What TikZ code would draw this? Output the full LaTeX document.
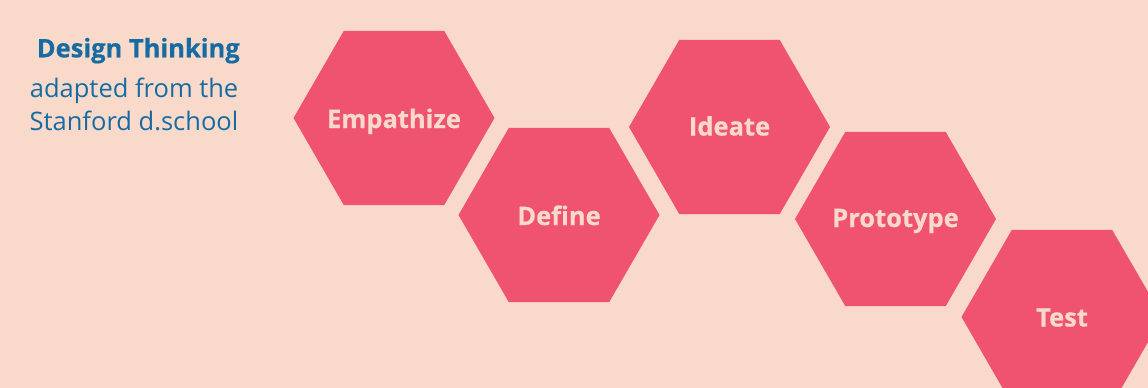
\documentclass[tikz,border=0pt]{standalone}
\usepackage{fontspec}
\setmainfont{Open Sans}[Ligatures=NoCommon, BoldFeatures={FakeBold=0.6}]
\usetikzlibrary{shapes.geometric,calc}
\definecolor{bgpeach}{HTML}{F9D9CA}
\definecolor{hexred}{HTML}{EF536E}
\definecolor{titleblue}{HTML}{166CA2}
\begin{document}
\begin{tikzpicture}[x=1pt,y=-1pt,
  hexbox/.style={regular polygon, regular polygon sides=6, minimum size=201pt,
    inner sep=0pt, outer sep=0pt, fill=hexred},
  hexlbl/.style={anchor=base, inner sep=0pt, text=bgpeach, font=\fontsize{25.5}{28}\selectfont\bfseries},
  titlelbl/.style={anchor=base east, inner sep=0pt, text=titleblue, font=\fontsize{25.5}{28}\selectfont\bfseries},
  sublbl/.style={anchor=base east, inner sep=0pt, text=titleblue, font=\fontsize{25.5}{28}\selectfont}]
\fill[bgpeach] (0,0) rectangle (1148,388);
\useasboundingbox (0,0) rectangle (1148,388);
\clip (0,0) rectangle (1148,388);
\node[hexbox] (emp) at (394,118) {};
\node[hexbox] (def) at (559,215) {};
\node[hexbox] (ide) at (729.5,127) {};
\node[hexbox] (pro) at (895.5,219) {};
\node[hexbox] (tes) at (1062,317) {};
\node[hexlbl] (emp-l) at ($(emp.center)+(0,10)$) {Empathize};
\node[hexlbl] (def-l) at ($(def.center)+(0,10)$) {Define};
\node[hexlbl] (ide-l) at ($(ide.center)+(0,8.5)$) {Ideate};
\node[hexlbl] (pro-l) at ($(pro.center)+(0,8)$) {Prototype};
\node[hexlbl] (tes-l) at ($(tes.center)+(0,9.5)$) {Test};
\node[titlelbl] (title) at (240,57.3) {Design Thinking};
\node[sublbl] (sub1) at (238.5,97.3) {adapted from the};
\node[sublbl] (sub2) at (238.5,130) {Stanford d.school};
\end{tikzpicture}
\end{document}
